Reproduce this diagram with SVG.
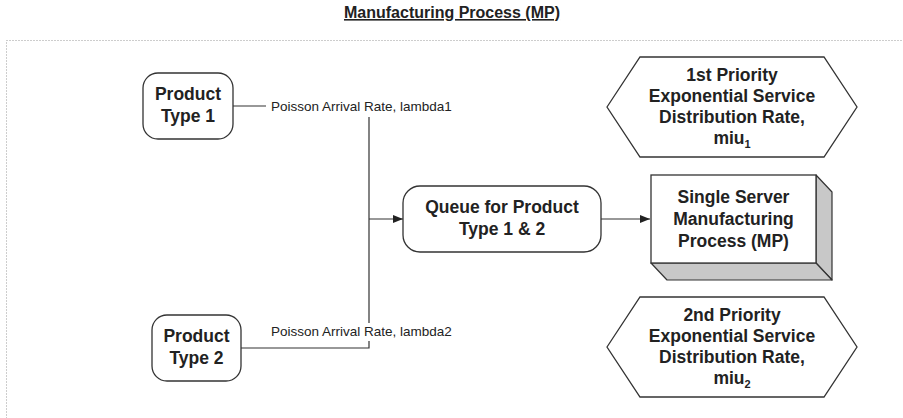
<svg xmlns="http://www.w3.org/2000/svg" width="903" height="418" viewBox="0 0 903 418">
<style>
.node{fill:#fff;stroke:#333;stroke-width:1.3}
.t{font-family:"Liberation Sans",Arial,sans-serif;font-weight:bold;font-size:17.5px;fill:#222;text-anchor:middle}
.lbl{font-family:"Liberation Sans",Arial,sans-serif;font-size:13.5px;fill:#222}
.c{fill:none;stroke:#333;stroke-width:1.2}
.shade{fill:#c8c8c8;stroke:#333;stroke-width:1.2;stroke-linejoin:round}
</style>
<defs>
<marker id="arr" viewBox="0 0 10 10" refX="10" refY="5" markerWidth="10" markerHeight="10" markerUnits="userSpaceOnUse" orient="auto">
<path d="M0,1 L10,5 L0,9 Z" fill="#222"/>
</marker>
</defs>
<text x="452" y="18" font-family="'Liberation Sans',Arial,sans-serif" font-weight="bold" font-size="16" fill="#222" text-anchor="middle" text-decoration="underline">Manufacturing Process (MP)</text>
<rect x="6.5" y="40.5" width="1000" height="500" fill="none" stroke="#9a9a9a" stroke-width="1" stroke-dasharray="1 2"/>
<g id="connectors">
<path class="c" d="M233,106 H369 V348 H241"/>
<path class="c" d="M369,219 H403" marker-end="url(#arr)"/>
<path class="c" d="M601,219 H650" marker-end="url(#arr)"/>
<rect x="266" y="98" width="192" height="19" fill="#fff"/>
<text class="lbl" x="271" y="111">Poisson Arrival Rate, lambda1</text>
<rect x="266" y="323" width="192" height="18" fill="#fff"/>
<text class="lbl" x="271" y="336">Poisson Arrival Rate, lambda2</text>
</g>
<g id="product1">
<rect class="node" x="143" y="73" width="90" height="66" rx="15"/>
<text class="t" x="188" y="100">Product</text>
<text class="t" x="188" y="122">Type 1</text>
</g>
<g id="product2">
<rect class="node" x="152" y="315" width="89" height="66" rx="15"/>
<text class="t" x="196.5" y="342">Product</text>
<text class="t" x="196.5" y="364">Type 2</text>
</g>
<g id="queue">
<rect class="node" x="403" y="186" width="198" height="66" rx="17"/>
<text class="t" x="502" y="213">Queue for Product</text>
<text class="t" x="502" y="235">Type 1 &amp; 2</text>
</g>
<g id="server">
<polygon class="shade" points="816,175 832,192 832,280 816,263"/>
<polygon class="shade" points="651,263 816,263 832,280 667,280"/>
<rect class="node" x="651" y="175" width="165" height="88"/>
<text class="t" x="733.5" y="203">Single Server</text>
<text class="t" x="733.5" y="225">Manufacturing</text>
<text class="t" x="733.5" y="247">Process (MP)</text>
</g>
<g id="priority1">
<polygon class="node" points="607,107 640,57 824,57 857,107 824,157 640,157"/>
<text class="t" x="732" y="81">1st Priority</text>
<text class="t" x="732" y="102">Exponential Service</text>
<text class="t" x="732" y="123">Distribution Rate,</text>
<text class="t" x="732" y="144">miu<tspan font-size="11" dy="4">1</tspan></text>
</g>
<g id="priority2">
<polygon class="node" points="607,347 640,297 824,297 857,347 824,397 640,397"/>
<text class="t" x="732" y="321">2nd Priority</text>
<text class="t" x="732" y="342">Exponential Service</text>
<text class="t" x="732" y="363">Distribution Rate,</text>
<text class="t" x="732" y="384">miu<tspan font-size="11" dy="4">2</tspan></text>
</g>
</svg>
